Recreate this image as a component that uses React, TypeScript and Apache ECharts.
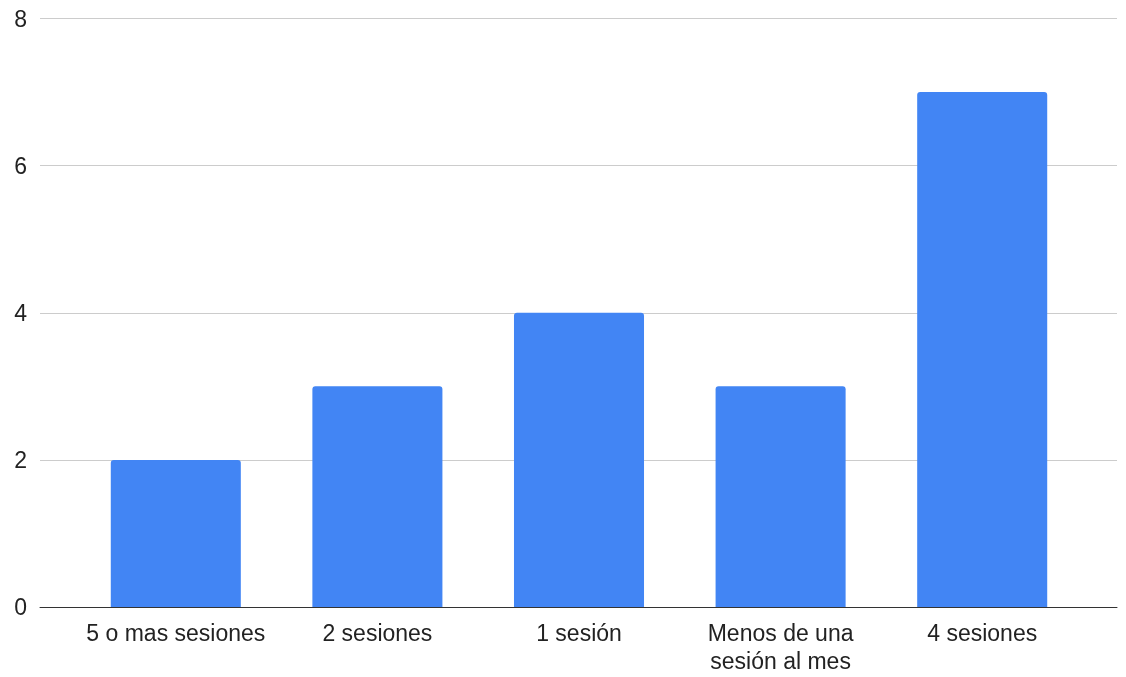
import React, { useEffect, useRef } from "react";
import * as echarts from "echarts";

const categories = ["5 o mas sesiones", "2 sesiones", "1 sesión", "Menos de una\nsesión al mes", "4 sesiones"];
const values = [2, 3, 4, 3, 7];
const yTicks = [0, 2, 4, 6, 8];

export default function App() {
  const ref = useRef<HTMLDivElement>(null);
  useEffect(() => {
    if (!ref.current) return;
    const chart = echarts.init(ref.current, undefined, { renderer: "svg" });
    const font = "'Liberation Sans', Arial, sans-serif";
    chart.setOption({
      animation: false,
      textStyle: { fontFamily: font },
      grid: [
        { left: 40, right: 9, top: 18.5, bottom: 70, outerBoundsMode: "none", containLabel: false },
        { left: 75, right: 43, top: 18.5, bottom: 70, outerBoundsMode: "none", containLabel: false },
      ],
      xAxis: [
        {
          type: "category",
          gridIndex: 0,
          data: [""],
          axisLine: { show: true, lineStyle: { color: "#333333", width: 1 } },
          axisTick: { show: false },
          axisLabel: { show: false },
        },
        {
          type: "category",
          gridIndex: 1,
          data: categories,
          axisLine: { show: false },
          axisTick: { show: false },
          axisLabel: {
            color: "#222222",
            fontSize: 23,
            fontFamily: font,
            margin: 12,
            lineHeight: 28,
            interval: 0,
            overflow: "none",
          },
        },
      ],
      yAxis: [
        {
          type: "value",
          gridIndex: 0,
          min: yTicks[0],
          max: yTicks[yTicks.length - 1],
          interval: 2,
          axisLine: { show: false },
          axisTick: { show: false },
          axisLabel: { color: "#222222", fontSize: 23, fontFamily: font, margin: 13 },
          splitLine: { lineStyle: { color: "#cccccc", width: 1 } },
        },
        {
          type: "value",
          gridIndex: 1,
          min: yTicks[0],
          max: yTicks[yTicks.length - 1],
          interval: 2,
          show: false,
          splitLine: { show: false },
        },
      ],
      series: [
        {
          type: "bar",
          xAxisIndex: 1,
          yAxisIndex: 1,
          data: values,
          barCategoryGap: "35.5%",
          itemStyle: { color: "#4285F4", borderRadius: [3, 3, 0, 0] },
          z: 3,
        },
      ],
    });
    return () => chart.dispose();
  }, []);
  return (
    <div
      ref={ref}
      style={{ position: "fixed", left: 0, top: 0, width: 1126, height: 677, overflow: "visible" }}
    />
  );
}
